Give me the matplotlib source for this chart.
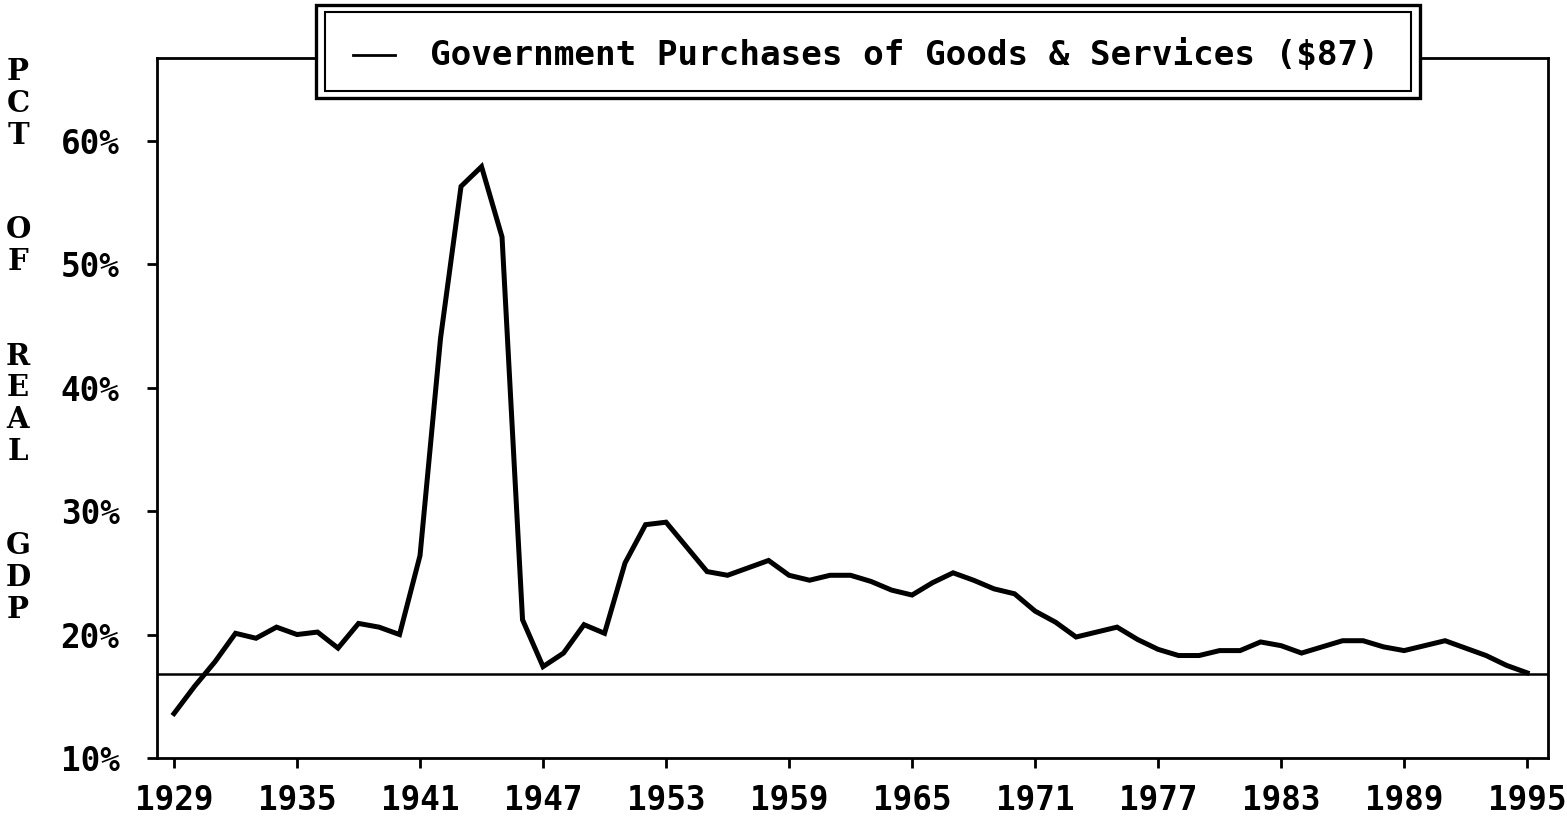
import numpy as np
import matplotlib
matplotlib.use("Agg")
import matplotlib.pyplot as plt
from matplotlib.patches import Rectangle
from matplotlib.lines import Line2D

years = np.arange(1929, 1996)
gov_pct = [13.6, 15.8, 17.8, 20.1, 19.7, 20.6, 20.0, 20.2, 18.9, 20.9,
           20.6, 20.0, 26.4, 44.0, 56.3, 57.9, 52.2, 21.2, 17.4, 18.5,
           20.8, 20.1, 25.8, 28.9, 29.1, 27.1, 25.1, 24.8, 25.4, 26.0,
           24.8, 24.4, 24.8, 24.8, 24.3, 23.6, 23.2, 24.2, 25.0, 24.4,
           23.7, 23.3, 21.9, 21.0, 19.8, 20.2, 20.6, 19.6, 18.8, 18.3,
           18.3, 18.7, 18.7, 19.4, 19.1, 18.5, 19.0, 19.5, 19.5, 19.0,
           18.7, 19.1, 19.5, 18.9, 18.3, 17.5, 16.9]
ref_level = 16.8   # linea horizontal de referencia
xticks = list(range(1929, 1996, 6))
yticks = [10, 20, 30, 40, 50, 60]
ylabel_rows = ["P", "C", "T", "", "", "O", "F", "", "", "R", "E", "A", "L", "", "", "G", "D", "P"]
legend_text = "Government Purchases of Goods & Services ($87)"

W, H = 1567, 817
fig = plt.figure(figsize=(W / 100, H / 100), dpi=100)
ax = fig.add_axes([157 / W, 1 - 758 / H, (1548 - 157) / W, (758 - 58) / H])

ax.plot(years, gov_pct, color="black", lw=3.6, solid_joinstyle="miter")
ax.axhline(ref_level, color="black", lw=1.8)

ax.set_xlim(1928.17, 1996.02)
ax.set_ylim(10, 66.7)
ax.set_xticks(xticks)
ax.set_xticklabels([str(x) for x in xticks])
ax.set_yticks(yticks)
ax.set_yticklabels([f"{v}%" for v in yticks])
for lab in ax.get_xticklabels() + ax.get_yticklabels():
    lab.set_family("DejaVu Sans Mono")
    lab.set_weight("bold")
    lab.set_fontsize(23.5)
ax.tick_params(axis="x", direction="out", length=7, width=2, pad=12)
ax.tick_params(axis="y", direction="out", length=7, width=2, pad=20)
for sp in ax.spines.values():
    sp.set_linewidth(2)

# etiqueta vertical letra por letra
for i, ch in enumerate(ylabel_rows):
    if ch:
        fig.text(18 / W, 1 - (72 + i * 31.6) / H, ch, ha="center", va="center",
                 family="DejaVu Serif", weight="bold", fontsize=21)

# caja de leyenda con doble borde
outer = Rectangle((316 / W, 1 - 98 / H), (1420 - 316) / W, (98 - 5) / H,
                  transform=fig.transFigure, facecolor="white", edgecolor="black",
                  lw=2.4, zorder=5)
inner = Rectangle((325 / W, 1 - 91 / H), (1411 - 325) / W, (91 - 12) / H,
                  transform=fig.transFigure, facecolor="white", edgecolor="black",
                  lw=1.5, zorder=6)
fig.add_artist(outer)
fig.add_artist(inner)
fig.add_artist(Line2D([353 / W, 395 / W], [1 - 55 / H, 1 - 55 / H],
                      transform=fig.transFigure, color="black", lw=2, zorder=7))
fig.text(430 / W, 1 - 55 / H, legend_text, ha="left", va="center",
         family="DejaVu Sans Mono", weight="bold", fontsize=24.7, zorder=7)

fig.savefig("out.png", dpi=100, facecolor="white")
